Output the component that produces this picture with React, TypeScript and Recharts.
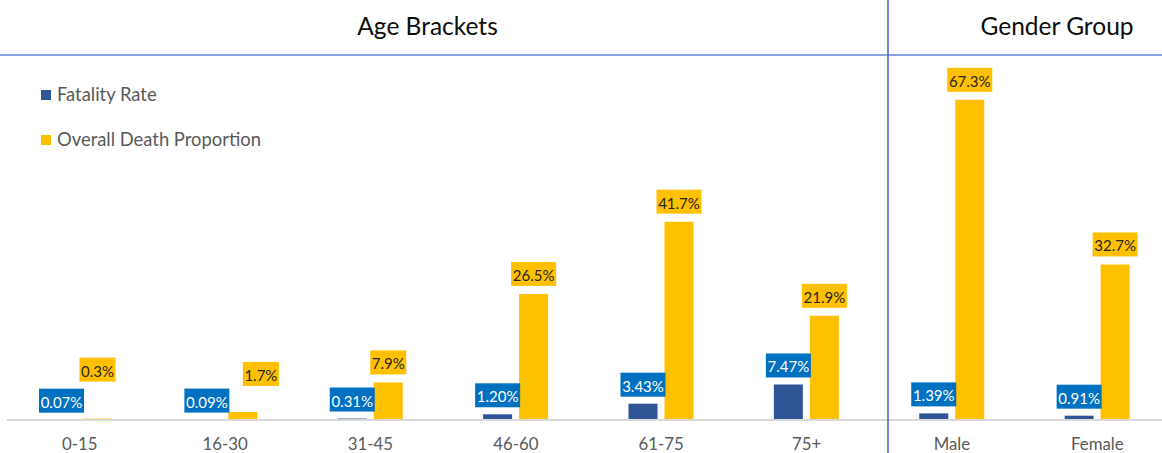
import React from "react";
import { BarChart, Bar, XAxis, YAxis, Legend, LabelList } from "recharts";

const categories = ["0-15", "16-30", "31-45", "46-60", "61-75", "75+", "Male", "Female"];
const fatalityRate = [0.07, 0.09, 0.31, 1.2, 3.43, 7.47, 1.39, 0.91];
const deathProportion = [0.3, 1.7, 7.9, 26.5, 41.7, 21.9, 67.3, 32.7];

const BLUE = "#2F5597";
const YELLOW = "#FFC000";
const FONT = "Lato, 'Noto Sans', sans-serif";

const rows = categories.map((name, i) => ({
  name,
  fatality: fatalityRate[i],
  proportion: deathProportion[i],
}));

// a couple of yellow labels were dragged by hand in the original
const yellowNudge: Record<number, { dx: number; dy: number }> = {
  0: { dx: 0, dy: -29 },
  1: { dx: 18, dy: -18 },
};

function makeLabel(kind: "blue" | "yellow") {
  return (props: any) => {
    const { x, y, width, value, index } = props;
    const text = kind === "blue" ? `${Number(value).toFixed(2)}%` : `${Number(value).toFixed(1)}%`;
    const w = text.length * 9;
    const h = 24;
    const nudge = kind === "yellow" ? yellowNudge[index] || { dx: 0, dy: 0 } : { dx: 0, dy: 0 };
    const gap = kind === "blue" ? 7 : 8;
    const cx = x + width / 2 + nudge.dx;
    const top = y - gap - h + nudge.dy;
    return (
      <g>
        <rect x={cx - w / 2} y={top} width={w} height={h} fill={kind === "blue" ? "#0070C0" : YELLOW} />
        <text
          x={cx}
          y={top + h / 2 + 1}
          textAnchor="middle"
          dominantBaseline="central"
          fontFamily={FONT}
          fontSize={15}
          fill={kind === "blue" ? "#FFFFFF" : "#262626"}
        >
          {text}
        </text>
      </g>
    );
  };
}

const AxisTick = (props: any) => {
  const { x, y, payload } = props;
  return (
    <text x={x} y={y + 30} textAnchor="middle" fill="#595959" fontSize={16.8} fontFamily={FONT}>
      {payload.value}
    </text>
  );
};

const renderLegend = (props: any) => {
  const { payload } = props;
  return (
    <svg width={300} height={160}>
      {(payload || []).map((entry: any, i: number) => (
        <g key={i}>
          <rect x={41} y={90 + i * 45} width={10} height={10} fill={entry.color} />
          <text x={57} y={101 + i * 44.5} fontFamily={FONT} fontSize={18.4} fill="#595959">
            {entry.value}
          </text>
        </g>
      ))}
    </svg>
  );
};

export default function App() {
  return (
    <div
      style={{
        position: "absolute",
        left: 0,
        top: 0,
        width: 1162,
        height: 453,
        overflow: "hidden",
        background: "#fff",
        fontFamily: FONT,
      }}
    >
      <BarChart
        width={1172}
        height={453}
        data={rows}
        margin={{ top: 87, right: 2, left: 7, bottom: 0 }}
        barSize={29}
        barGap={7}
      >
        <XAxis
          dataKey="name"
          height={33}
          tickLine={false}
          tickSize={0}
          tickMargin={0}
          axisLine={{ stroke: "#D9D9D9", strokeWidth: 2 }}
          tick={<AxisTick />}
          interval={0}
        />
        <YAxis hide domain={[0, 70]} />
        <Legend
          layout="vertical"
          align="center"
          verticalAlign="middle"
          content={renderLegend}
          wrapperStyle={{ position: "absolute", left: 0, top: 0, width: 300, height: 160 }}
        />
        <Bar dataKey="fatality" name="Fatality Rate" fill={BLUE} isAnimationActive={false}>
          <LabelList dataKey="fatality" content={makeLabel("blue")} />
        </Bar>
        <Bar dataKey="proportion" name="Overall Death Proportion" fill={YELLOW} isAnimationActive={false}>
          <LabelList dataKey="proportion" content={makeLabel("yellow")} />
        </Bar>
      </BarChart>
      <svg
        width={1162}
        height={453}
        style={{ position: "absolute", left: 0, top: 0, pointerEvents: "none" }}
      >
        <line x1={0} y1={55} x2={1162} y2={55} stroke="#5F86D6" strokeWidth={1.6} />
        <line x1={888} y1={0} x2={888} y2={453} stroke="#3F70DA" strokeWidth={1.6} />
        <text x={427.5} y={35} textAnchor="middle" fontFamily={FONT} fontSize={24.5} fill="#0D0D0D">
          Age Brackets
        </text>
        <text x={1057} y={35} textAnchor="middle" fontFamily={FONT} fontSize={24.5} fill="#0D0D0D">
          Gender Group
        </text>
      </svg>
    </div>
  );
}
